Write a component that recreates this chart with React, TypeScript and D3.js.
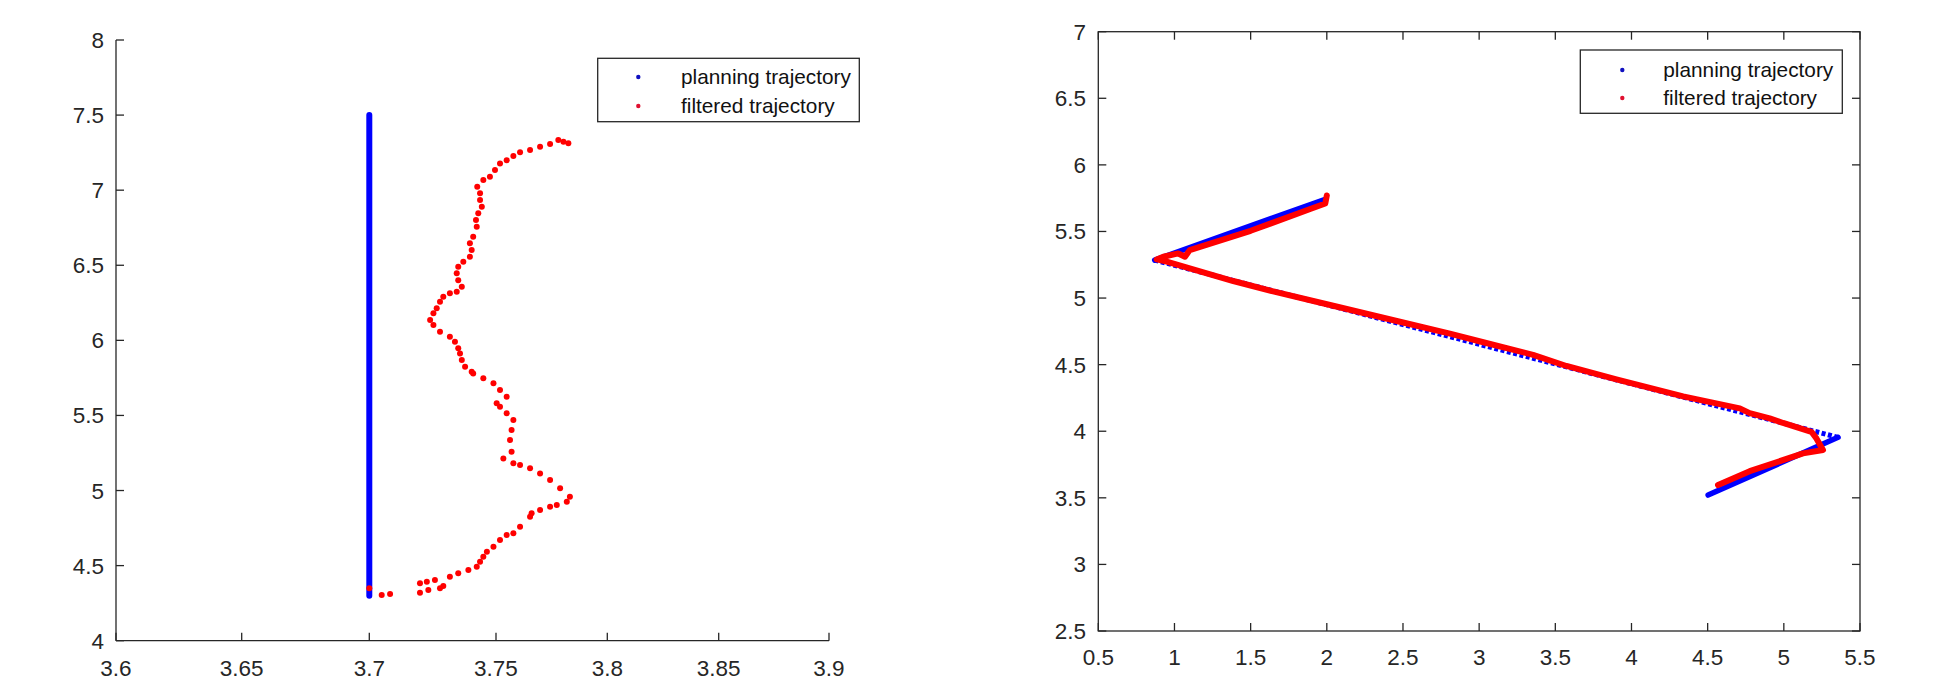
import React from "react";
import * as d3 from "d3";

// ---------- Left panel data ----------
const leftXTicks = [3.6, 3.65, 3.7, 3.75, 3.8, 3.85, 3.9];
const leftYTicks = [4, 4.5, 5, 5.5, 6, 6.5, 7, 7.5, 8];
const leftPlanX = [3.7, 3.7];
const leftPlanY = [4.3, 7.5];
const leftFiltX = [
  3.7, 3.7049, 3.7082, 3.72, 3.7233, 3.72, 3.7227, 3.7259, 3.7279, 3.7292,
  3.7318, 3.7351, 3.7391, 3.7424, 3.7437, 3.745, 3.7464, 3.749, 3.7518, 3.7548,
  3.7578, 3.7608, 3.7653, 3.766, 3.7698, 3.7743, 3.7773, 3.7818, 3.7832, 3.7788,
  3.7743, 3.7698, 3.7653, 3.7608, 3.7578, 3.7533, 3.757, 3.7563, 3.757, 3.7578,
  3.7548, 3.7518, 3.7503, 3.7548, 3.7518, 3.749, 3.745, 3.741, 3.7404, 3.7378,
  3.7365, 3.7358, 3.7351, 3.7338, 3.7318, 3.7279, 3.7253, 3.724, 3.7253, 3.7266,
  3.7279, 3.7292, 3.7318, 3.7345, 3.7365, 3.7351, 3.7345, 3.7351, 3.7371, 3.7397,
  3.7404, 3.7397, 3.741, 3.7424, 3.7421, 3.743, 3.7444, 3.7437, 3.7437, 3.7426,
  3.745, 3.7476, 3.7496, 3.7518, 3.7548, 3.7578, 3.7608, 3.7653, 3.7698, 3.7743,
  3.778, 3.7803, 3.7825,
];
const leftFiltY = [
  4.349, 4.304, 4.311, 4.32, 4.338, 4.382, 4.393, 4.404, 4.349, 4.364,
  4.426, 4.449, 4.471, 4.493, 4.526, 4.559, 4.593, 4.626, 4.67, 4.704,
  4.715, 4.759, 4.826, 4.848, 4.87, 4.892, 4.903, 4.925, 4.959, 5.015,
  5.07, 5.114, 5.148, 5.17, 5.181, 5.214, 5.258, 5.336, 5.403, 5.469,
  5.514, 5.558, 5.581, 5.624, 5.669, 5.714, 5.747, 5.78, 5.791, 5.824,
  5.869, 5.913, 5.947, 5.991, 6.024, 6.057, 6.102, 6.135, 6.18, 6.213,
  6.257, 6.29, 6.313, 6.324, 6.357, 6.401, 6.446, 6.49, 6.523, 6.557,
  6.601, 6.646, 6.69, 6.756, 6.801, 6.846, 6.889, 6.934, 6.979, 7.023,
  7.067, 7.089, 7.134, 7.178, 7.2, 7.227, 7.252, 7.267, 7.289, 7.307,
  7.334, 7.322, 7.312,
];

// ---------- Right panel data ----------
const rightXTicks = [0.5, 1, 1.5, 2, 2.5, 3, 3.5, 4, 4.5, 5, 5.5];
const rightYTicks = [2.5, 3, 3.5, 4, 4.5, 5, 5.5, 6, 6.5, 7];
const rightPlanX = [1.99, 0.87, 5.356, 4.503];
const rightPlanY = [5.742, 5.285, 3.954, 3.521];
const rightFiltX = [
  2.0, 1.99, 1.9, 1.5, 1.1, 1.069, 1.025, 0.927, 0.883, 0.949,
  1.386, 1.648, 2.042, 2.48, 2.808, 3.027, 3.354, 3.573, 3.901, 4.339,
  4.711, 4.776, 4.907, 4.995, 5.181, 5.214, 5.257, 5.126, 4.776, 4.568,
];
const rightFiltY = [
  5.77, 5.71, 5.672, 5.505, 5.36, 5.31, 5.335, 5.31, 5.29, 5.273,
  5.128, 5.05, 4.942, 4.822, 4.733, 4.668, 4.574, 4.49, 4.39, 4.262,
  4.172, 4.136, 4.097, 4.062, 3.996, 3.946, 3.859, 3.834, 3.7, 3.596,
];

const legendLabels = ["planning trajectory", "filtered trajectory"];

const AXIS = "#262626";
const BLUE = "#0000ff";
const RED = "#ff0000";
const FONT = "'Liberation Sans', Arial, Helvetica, sans-serif";

function Legend({ x0, y0, x1, y1, dotX, rows, textX }: any) {
  return (
    <g>
      <rect x={x0} y={y0} width={x1 - x0} height={y1 - y0} fill="#fff" stroke={AXIS} strokeWidth={1.3} />
      {legendLabels.map((l, i) => (
        <g key={l}>
          <circle cx={dotX} cy={rows[i] - 7} r={2.2} fill={i === 0 ? "#1010c0" : "#e01030"} />
          <text x={textX} y={rows[i]} fontFamily={FONT} fontSize={20.8} fill="#111">
            {l}
          </text>
        </g>
      ))}
    </g>
  );
}

export default function App() {
  // Left panel scales (the picture's x axis is unevenly spaced, so polylinear)
  const lx = d3
    .scaleLinear()
    .domain(leftXTicks)
    .range([116, 241.7, 369.3, 496, 607.3, 718.7, 829]);
  const ly = d3.scaleLinear().domain([4, 8]).range([640.7, 40]);

  // Right panel scales
  const rx = d3.scaleLinear().domain([0.5, 5.5]).range([1098.3, 1860]);
  const ry = d3.scaleLinear().domain([2.5, 7]).range([631, 31.7]);

  const leftPlan = leftPlanX.map((x, i) => [x, leftPlanY[i]] as [number, number]);
  const leftFilt = leftFiltX.map((x, i) => [x, leftFiltY[i]] as [number, number]);
  const rightPlan = rightPlanX.map((x, i) => [x, rightPlanY[i]] as [number, number]);
  const rightFilt = rightFiltX.map((x, i) => [x, rightFiltY[i]] as [number, number]);

  const lLine = d3.line<[number, number]>().x((d) => lx(d[0])).y((d) => ly(d[1]));
  const rLine = d3.line<[number, number]>().x((d) => rx(d[0])).y((d) => ry(d[1]));

  const tickFs = 22.5;
  const tl = 8;

  return (
    <svg
      width={1945}
      height={689}
      style={{ position: "absolute", left: 0, top: 0, background: "#fff" }}
    >
      <rect width={1945} height={689} fill="#fff" />
      {/* ---------------- Left panel ---------------- */}
      <g>
        <path d={lLine(leftPlan) || ""} stroke={BLUE} strokeWidth={6} strokeLinecap="round" fill="none" />
        {leftFilt.map((d, i) => (
          <circle key={i} cx={lx(d[0])} cy={ly(d[1])} r={3} fill={RED} />
        ))}
        <line x1={116} x2={829} y1={ly(4)} y2={ly(4)} stroke={AXIS} strokeWidth={1.3} />
        <line x1={116} x2={116} y1={ly(4)} y2={ly(8)} stroke={AXIS} strokeWidth={1.3} />
        {leftXTicks.map((t) => (
          <g key={"lx" + t}>
            <line x1={lx(t)} x2={lx(t)} y1={ly(4)} y2={ly(4) - tl} stroke={AXIS} strokeWidth={1.3} />
            <text x={lx(t)} y={676} textAnchor="middle" fontFamily={FONT} fontSize={tickFs} fill={AXIS}>
              {t}
            </text>
          </g>
        ))}
        {leftYTicks.map((t) => (
          <g key={"ly" + t}>
            <line x1={116} x2={116 + tl} y1={ly(t)} y2={ly(t)} stroke={AXIS} strokeWidth={1.3} />
            <text x={104} y={ly(t) + 8} textAnchor="end" fontFamily={FONT} fontSize={tickFs} fill={AXIS}>
              {t}
            </text>
          </g>
        ))}
        <Legend x0={597.7} y0={58.3} x1={859.3} y1={121.7} dotX={638.3} rows={[84, 113]} textX={681} />
      </g>

      {/* ---------------- Right panel ---------------- */}
      <g>
        <path d={rLine(rightPlan.slice(1, 3)) || ""} stroke={BLUE} strokeWidth={5} strokeDasharray="4 2.5" fill="none" />
        <path d={rLine(rightPlan.slice(0, 2)) || ""} stroke={BLUE} strokeWidth={5.5} strokeLinecap="round" fill="none" />
        <path d={rLine(rightPlan.slice(2, 4)) || ""} stroke={BLUE} strokeWidth={5.5} strokeLinecap="round" fill="none" />
        <path
          d={rLine(rightFilt) || ""}
          stroke={RED}
          strokeWidth={6}
          strokeLinecap="round"
          strokeLinejoin="round"
          fill="none"
        />
        <rect x={1098.3} y={31.7} width={1860 - 1098.3} height={631 - 31.7} fill="none" stroke={AXIS} strokeWidth={1.3} />
        {rightXTicks.map((t) => (
          <g key={"rx" + t}>
            <line x1={rx(t)} x2={rx(t)} y1={631} y2={631 - tl} stroke={AXIS} strokeWidth={1.3} />
            <line x1={rx(t)} x2={rx(t)} y1={31.7} y2={31.7 + tl} stroke={AXIS} strokeWidth={1.3} />
            <text x={rx(t)} y={665} textAnchor="middle" fontFamily={FONT} fontSize={tickFs} fill={AXIS}>
              {t}
            </text>
          </g>
        ))}
        {rightYTicks.map((t) => (
          <g key={"ry" + t}>
            <line x1={1098.3} x2={1098.3 + tl} y1={ry(t)} y2={ry(t)} stroke={AXIS} strokeWidth={1.3} />
            <line x1={1860} x2={1860 - tl} y1={ry(t)} y2={ry(t)} stroke={AXIS} strokeWidth={1.3} />
            <text x={1086} y={ry(t) + 8} textAnchor="end" fontFamily={FONT} fontSize={tickFs} fill={AXIS}>
              {t}
            </text>
          </g>
        ))}
        <Legend x0={1580.3} y0={50} x1={1842.3} y1={113.3} dotX={1622.3} rows={[77, 105]} textX={1663.3} />
      </g>
    </svg>
  );
}
